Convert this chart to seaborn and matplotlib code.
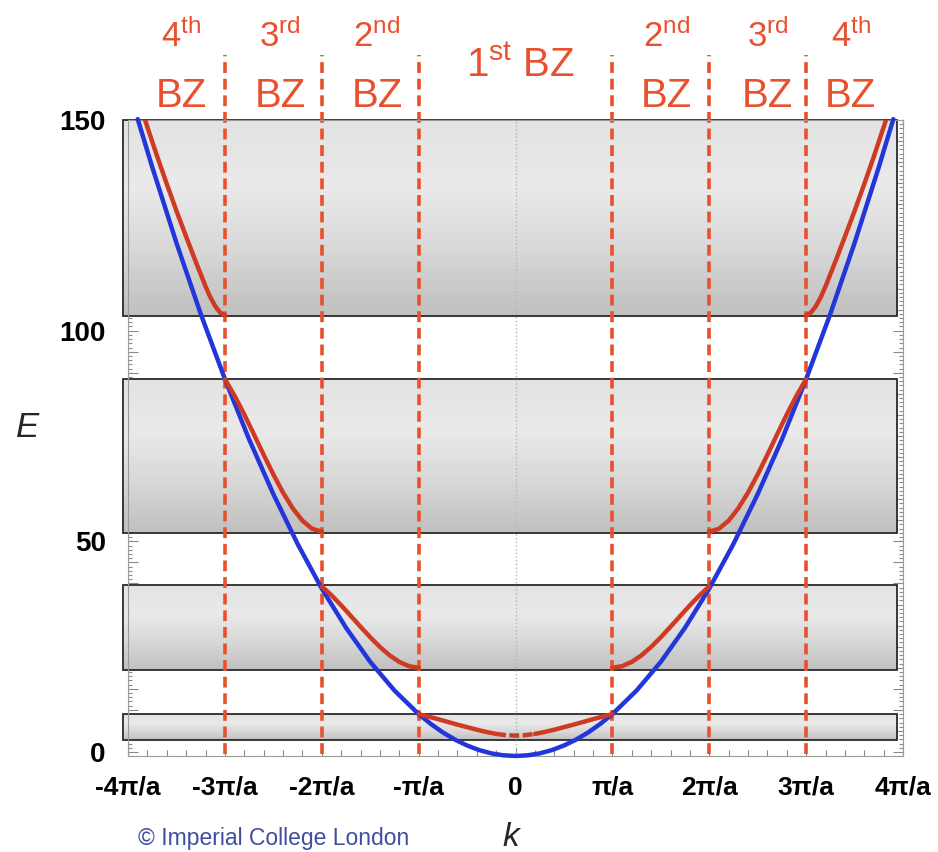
import numpy as np
import pandas as pd
import matplotlib
matplotlib.use("Agg")
import matplotlib.pyplot as plt
import seaborn as sns
from matplotlib.patches import Rectangle
from matplotlib.colors import LinearSegmentedColormap
from matplotlib.ticker import MultipleLocator, FixedLocator, FixedFormatter

sns.set_theme(style="white")
plt.rcParams['font.family'] = ['Liberation Sans', 'DejaVu Sans']
plt.rcParams['mathtext.fontset'] = 'custom'
plt.rcParams['mathtext.rm'] = 'Liberation Sans'
plt.rcParams['mathtext.it'] = 'Liberation Sans:italic'
plt.rcParams['mathtext.bf'] = 'Liberation Sans:bold'

# k in units of pi/a, values read for k >= 0 (picture is symmetric)
k_free = [0, 0.125, 0.25, 0.375, 0.5, 0.625, 0.75, 0.875, 1.0, 1.25, 1.5, 1.75,
          2.0, 2.25, 2.5, 2.75, 3.0, 3.25, 3.5, 3.75, 3.9]
E_free = [-0.94, -0.78, -0.32, 0.46, 1.55, 2.94, 4.65, 6.67, 9.0, 14.6, 21.4, 29.5,
          38.8, 49.4, 61.2, 74.2, 88.5, 104.0, 120.8, 138.8, 150.2]

k_band1 = [0, 0.1, 0.2, 0.3, 0.4, 0.5, 0.6, 0.7, 0.8, 0.9, 1.0]
E_band1 = [3.9, 4.0, 4.3, 4.75, 5.3, 5.9, 6.5, 7.15, 7.8, 8.4, 9.0]
k_band2 = [1.0, 1.1, 1.2, 1.3, 1.4, 1.5, 1.6, 1.7, 1.8, 1.9, 2.0]
E_band2 = [20.0, 20.37, 21.39, 22.95, 24.94, 27.24, 29.73, 32.29, 34.82, 37.2, 39.3]
k_band3 = [2.0, 2.1, 2.2, 2.3, 2.4, 2.5, 2.6, 2.7, 2.8, 2.9, 3.0]
E_band3 = [52.3, 52.99, 54.91, 57.84, 61.57, 65.88, 70.54, 75.36, 80.1, 84.55, 88.5]
k_band4 = [3.0, 3.05, 3.1, 3.15, 3.2, 3.3, 3.4, 3.5, 3.6, 3.7, 3.8, 3.83]
E_band4 = [103.6, 104.3, 105.8, 107.9, 110.5, 116.3, 122.3, 128.4, 134.8, 141.4, 148.3, 150.4]

# allowed energy bands (shaded boxes)
band_lo = [2.85, 19.5, 52.0, 103.5]
band_hi = [9.0, 39.6, 88.5, 150.0]

zone_k = [-3, -2, -1, 1, 2, 3]
ordinals = ['4', '3', '2', '2', '3', '4']
ord_sup = ['th', 'rd', 'nd', 'nd', 'rd', 'th']
ord_x = [-3.45, -2.43, -1.43, 1.56, 2.60, 3.46]

xtick_vals = [-4, -3, -2, -1, 0, 1, 2, 3, 4]
xtick_labels = ['-4π/a', '-3π/a', '-2π/a', '-π/a', '0', 'π/a', '2π/a', '3π/a', '4π/a']
ytick_vals = [0, 50, 100, 150]

RED = '#cf3a22'
BLUE = '#2236da'
ZONE = '#e8502e'


def both_sides(k, E):
    kn = [-v for v in k[::-1]]
    return (kn, list(E[::-1])), (list(k), list(E))


# free electron curve as one line
blue = pd.DataFrame({'k': [-v for v in k_free[::-1]] + k_free[1:],
                     'E': E_free[::-1] + E_free[1:]})

# red branches
rows = []
b1k = [-v for v in k_band1[::-1]] + k_band1[1:]
b1E = E_band1[::-1] + E_band1[1:]
for kv, ev in zip(b1k, b1E):
    if kv <= -0.2:
        rows.append(('b1l', kv, ev))
    if kv >= 0.2:
        rows.append(('b1r', kv, ev))
for name, kk, ee in [('b2', k_band2, E_band2), ('b3', k_band3, E_band3), ('b4', k_band4, E_band4)]:
    (kl, el), (kr, er) = both_sides(kk, ee)
    rows += [(name + 'l', a, b) for a, b in zip(kl, el)]
    rows += [(name + 'r', a, b) for a, b in zip(kr, er)]
red = pd.DataFrame(rows, columns=['branch', 'k', 'E'])
mid = pd.DataFrame({'k': [v for v in b1k if abs(v) <= 0.2],
                    'E': [e for v, e in zip(b1k, b1E) if abs(v) <= 0.2]})

fig = plt.figure(figsize=(9.38, 8.52), dpi=100)
ax = fig.add_axes([0.1365, 0.1124, 0.8262, 0.7468])

# shaded allowed bands
cmap = LinearSegmentedColormap.from_list('band', ['#c0c0c0', '#d8d8d8', '#eaeaea', '#e3e3e3'])
grad = np.linspace(0, 1, 64).reshape(-1, 1)
for lo, hi in zip(band_lo, band_hi):
    ax.imshow(grad, cmap=cmap, origin='lower', aspect='auto',
              extent=(-4.05, 3.94, lo, hi), zorder=1, clip_on=False)
    ax.add_patch(Rectangle((-4.05, lo), 7.99, hi - lo, fill=False, ec='#2a2a2a',
                           lw=1.3, zorder=1.2, clip_on=False))

ax.axvline(0, color='#b5b5b5', ls=':', lw=1.0, zorder=1.5)
ax.vlines(zone_k, -0.5, 165.5, colors=ZONE, linestyles=(0, (3.0, 1.6)), lw=2.6,
          zorder=2.5, clip_on=False)

sns.lineplot(data=blue, x='k', y='E', sort=False, estimator=None, color=BLUE,
             lw=3.2, ax=ax, zorder=3, clip_on=False)
sns.lineplot(data=red, x='k', y='E', units='branch', sort=False, estimator=None,
             color=RED, lw=3.2, ax=ax, zorder=4)
sns.lineplot(data=mid, x='k', y='E', sort=False, estimator=None, color=RED,
             lw=3.2, ax=ax, zorder=4, linestyle=(0, (2.2, 0.8)))

ax.set_xlim(-4, 4)
ax.set_ylim(-1, 150)

# zone labels
for xo, n, s in zip(ord_x, ordinals, ord_sup):
    ax.text(xo, 167.3, n + r'$^{\mathrm{' + s + '}}$', color=ZONE, fontsize=25,
            ha='center', va='baseline', clip_on=False)
    ax.text(xo, 153.1, 'BZ', color=ZONE, fontsize=29, ha='center', va='baseline',
            clip_on=False)
ax.text(0.05, 160.2, r'1$^{\mathrm{st}}$ BZ', color=ZONE, fontsize=29,
        ha='center', va='baseline', clip_on=False)

# ticks
ax.xaxis.set_major_locator(FixedLocator(xtick_vals))
ax.xaxis.set_major_formatter(FixedFormatter(xtick_labels))
ax.xaxis.set_minor_locator(MultipleLocator(0.2))
ymaj = list(range(0, 151, 5))
ax.yaxis.set_major_locator(FixedLocator(ymaj))
ax.yaxis.set_major_formatter(FixedFormatter([str(v) if v in ytick_vals else '' for v in ymaj]))
ax.yaxis.set_minor_locator(MultipleLocator(1))
ax.tick_params(axis='both', which='both', direction='in', colors='#8a8a8a',
               top=True, right=True, bottom=True, left=True, width=0.8)
ax.tick_params(axis='x', which='major', length=6, pad=14, labelsize=19, labelcolor='black')
ax.tick_params(axis='x', which='minor', length=4)
ax.tick_params(axis='y', which='major', length=7, pad=16, labelsize=20, labelcolor='black')
ax.tick_params(axis='y', which='minor', length=3)
for lab in ax.get_xticklabels() + ax.get_yticklabels():
    lab.set_fontweight('bold')
for sp in ax.spines.values():
    sp.set_color('#9a9a9a')
    sp.set_linewidth(0.8)

ax.set_xlabel('k', fontsize=24, fontstyle='italic')
ax.set_ylabel('E', fontsize=25, fontstyle='italic', rotation=0)
ax.xaxis.set_label_coords(0.494, -0.127)
ax.yaxis.set_label_coords(-0.13, 0.517)
ax.xaxis.label.set_va('center')
ax.yaxis.label.set_va('center')

fig.text(274 / 938, 1 - 838 / 852, '© Imperial College London', color='#3f4e9e',
         fontsize=16.5, ha='center', va='center')

fig.savefig('out.png', dpi=100)
